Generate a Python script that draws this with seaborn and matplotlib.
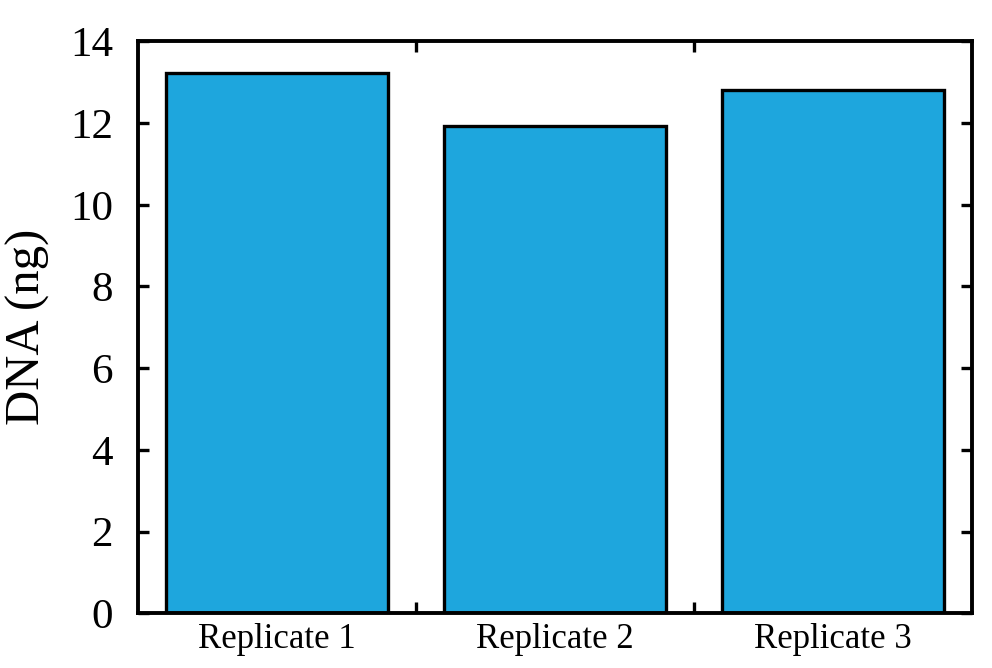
import matplotlib
matplotlib.use("Agg")
import matplotlib.pyplot as plt
import seaborn as sns
import pandas as pd

samples = ["Replicate 1", "Replicate 2", "Replicate 3"]
dna_ng = [13.22, 11.92, 12.82]

df = pd.DataFrame({"sample": samples, "dna": dna_ng})

sns.set_style("ticks")
plt.rcParams["font.family"] = ["Liberation Serif", "DejaVu Serif"]
plt.rcParams["text.color"] = "black"
plt.rcParams["axes.labelcolor"] = "black"
plt.rcParams["xtick.color"] = "black"
plt.rcParams["ytick.color"] = "black"
plt.rcParams["axes.edgecolor"] = "black"

fig, ax = plt.subplots(figsize=(9.92, 6.68), dpi=100)
fig.subplots_adjust(left=0.139, right=0.98, top=0.938, bottom=0.082)

sns.barplot(data=df, x="sample", y="dna", color="#1ea6dd", saturation=1,
            edgecolor="black", linewidth=2.4, width=0.8, ax=ax)

ax.set_xlim(-0.5, 2.5)
ax.set_ylim(0, 14)
ax.set_yticks(range(0, 15, 2))
ax.tick_params(axis="y", direction="in", length=8, width=2.4, labelsize=31,
               right=True, pad=18)
# category boundaries get the tick marks, labels sit at centres
ax.set_xticks([0.5, 1.5])
ax.set_xticklabels([])
ax.set_xticks([0, 1, 2], minor=True)
ax.set_xticklabels(samples, minor=True)
ax.tick_params(axis="x", which="major", direction="in", length=8, width=2.4, top=True)
ax.tick_params(axis="x", which="minor", length=0, labelsize=25, pad=7)

for s in ax.spines.values():
    s.set_linewidth(2.8)
    s.set_visible(True)

ax.set_xlabel("")
ax.set_ylabel("DNA (ng)", fontsize=35, labelpad=14)

fig.savefig("out.png", dpi=100)
